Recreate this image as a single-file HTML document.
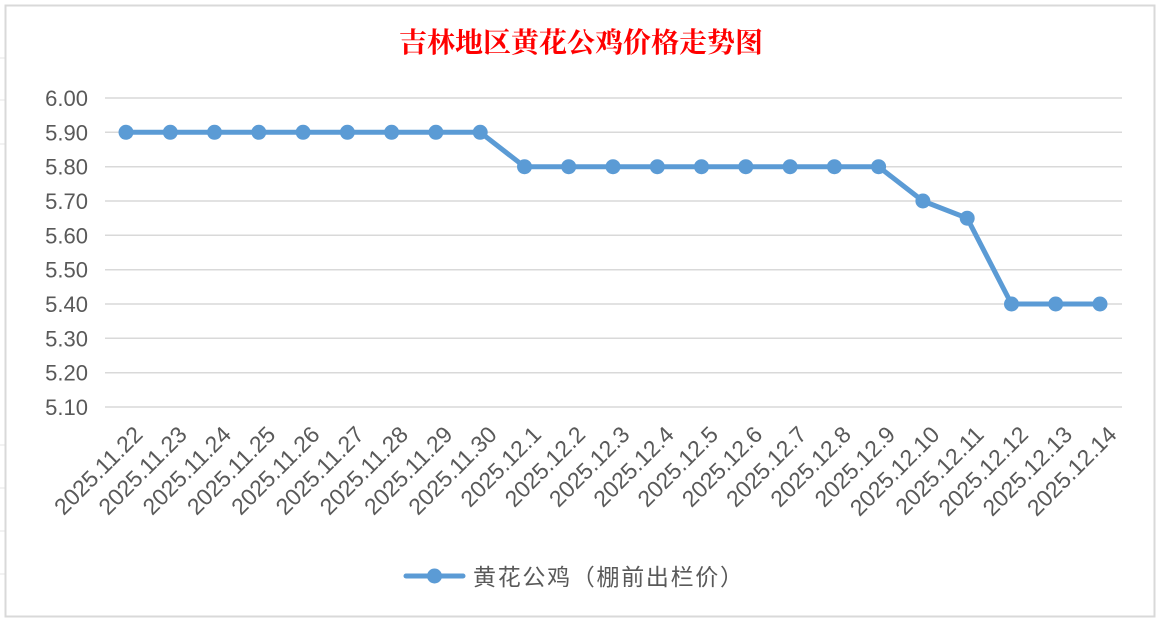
<!DOCTYPE html>
<html><head><meta charset="utf-8"><style>
html,body{margin:0;padding:0;background:#fff;width:1161px;height:622px;overflow:hidden}
</style></head><body>
<svg width="1161" height="622" xmlns="http://www.w3.org/2000/svg">
<g stroke="#e4e4e4" stroke-width="1">
<line x1="0" y1="58" x2="5" y2="58"/><line x1="0" y1="100" x2="5" y2="100"/><line x1="0" y1="144" x2="5" y2="144"/>
<line x1="0" y1="445" x2="5" y2="445"/><line x1="0" y1="488" x2="5" y2="488"/><line x1="0" y1="531" x2="5" y2="531"/><line x1="0" y1="574" x2="5" y2="574"/>
</g>
<rect x="5.5" y="5.5" width="1149" height="611" fill="#fff" stroke="#d9d9d9" stroke-width="2"/>
<text x="581" y="52" text-anchor="middle" font-family="'Noto Serif CJK SC',serif" font-size="28" font-weight="bold" fill="#ff0000">吉林地区黄花公鸡价格走势图</text>
<g stroke="#d9d9d9" stroke-width="1.5">
<line x1="105" x2="1122" y1="98" y2="98"/><line x1="105" x2="1122" y1="132.3" y2="132.3"/><line x1="105" x2="1122" y1="166.7" y2="166.7"/><line x1="105" x2="1122" y1="201" y2="201"/><line x1="105" x2="1122" y1="235.3" y2="235.3"/><line x1="105" x2="1122" y1="269.7" y2="269.7"/><line x1="105" x2="1122" y1="304" y2="304"/><line x1="105" x2="1122" y1="338.3" y2="338.3"/><line x1="105" x2="1122" y1="372.7" y2="372.7"/><line x1="105" x2="1122" y1="407" y2="407"/>
</g>
<g font-family="'Liberation Sans',sans-serif" font-size="22" fill="#595959" text-anchor="end">
<text x="88" y="106">6.00</text><text x="88" y="140.3">5.90</text><text x="88" y="174.7">5.80</text><text x="88" y="209">5.70</text><text x="88" y="243.3">5.60</text><text x="88" y="277.7">5.50</text><text x="88" y="312">5.40</text><text x="88" y="346.3">5.30</text><text x="88" y="380.7">5.20</text><text x="88" y="415">5.10</text>
</g>
<polyline fill="none" stroke="#5b9bd5" stroke-width="5" stroke-linejoin="round" points="126,132.3 170.3,132.3 214.5,132.3 258.8,132.3 303.1,132.3 347.4,132.3 391.6,132.3 435.9,132.3 480.2,132.3 524.5,166.7 568.7,166.7 613,166.7 657.3,166.7 701.5,166.7 745.8,166.7 790.1,166.7 834.4,166.7 878.6,166.7 922.9,201 967.2,218.2 1011.5,304 1055.7,304 1100,304"/>
<g fill="#5b9bd5">
<circle cx="126" cy="132.3" r="7.5"/><circle cx="170.3" cy="132.3" r="7.5"/><circle cx="214.5" cy="132.3" r="7.5"/><circle cx="258.8" cy="132.3" r="7.5"/><circle cx="303.1" cy="132.3" r="7.5"/><circle cx="347.4" cy="132.3" r="7.5"/><circle cx="391.6" cy="132.3" r="7.5"/><circle cx="435.9" cy="132.3" r="7.5"/><circle cx="480.2" cy="132.3" r="7.5"/><circle cx="524.5" cy="166.7" r="7.5"/><circle cx="568.7" cy="166.7" r="7.5"/><circle cx="613" cy="166.7" r="7.5"/><circle cx="657.3" cy="166.7" r="7.5"/><circle cx="701.5" cy="166.7" r="7.5"/><circle cx="745.8" cy="166.7" r="7.5"/><circle cx="790.1" cy="166.7" r="7.5"/><circle cx="834.4" cy="166.7" r="7.5"/><circle cx="878.6" cy="166.7" r="7.5"/><circle cx="922.9" cy="201" r="7.5"/><circle cx="967.2" cy="218.2" r="7.5"/><circle cx="1011.5" cy="304" r="7.5"/><circle cx="1055.7" cy="304" r="7.5"/><circle cx="1100" cy="304" r="7.5"/>
</g>
<g font-family="'Liberation Sans',sans-serif" font-size="23" fill="#595959" text-anchor="end">
<text transform="translate(144,436) rotate(-45)">2025.11.22</text>
<text transform="translate(188.3,436) rotate(-45)">2025.11.23</text>
<text transform="translate(232.5,436) rotate(-45)">2025.11.24</text>
<text transform="translate(276.8,436) rotate(-45)">2025.11.25</text>
<text transform="translate(321.1,436) rotate(-45)">2025.11.26</text>
<text transform="translate(365.4,436) rotate(-45)">2025.11.27</text>
<text transform="translate(409.6,436) rotate(-45)">2025.11.28</text>
<text transform="translate(453.9,436) rotate(-45)">2025.11.29</text>
<text transform="translate(498.2,436) rotate(-45)">2025.11.30</text>
<text transform="translate(542.5,436) rotate(-45)">2025.12.1</text>
<text transform="translate(586.7,436) rotate(-45)">2025.12.2</text>
<text transform="translate(631,436) rotate(-45)">2025.12.3</text>
<text transform="translate(675.3,436) rotate(-45)">2025.12.4</text>
<text transform="translate(719.5,436) rotate(-45)">2025.12.5</text>
<text transform="translate(763.8,436) rotate(-45)">2025.12.6</text>
<text transform="translate(808.1,436) rotate(-45)">2025.12.7</text>
<text transform="translate(852.4,436) rotate(-45)">2025.12.8</text>
<text transform="translate(896.6,436) rotate(-45)">2025.12.9</text>
<text transform="translate(940.9,436) rotate(-45)">2025.12.10</text>
<text transform="translate(985.2,436) rotate(-45)">2025.12.11</text>
<text transform="translate(1029.5,436) rotate(-45)">2025.12.12</text>
<text transform="translate(1073.7,436) rotate(-45)">2025.12.13</text>
<text transform="translate(1118,436) rotate(-45)">2025.12.14</text>
</g>
<line x1="406" y1="576" x2="463" y2="576" stroke="#5b9bd5" stroke-width="5" stroke-linecap="round"/>
<circle cx="434.5" cy="576" r="7.5" fill="#5b9bd5"/>
<text x="473" y="585" textLength="270" font-family="'Liberation Sans','Noto Sans CJK SC',sans-serif" font-size="23" fill="#595959">黄花公鸡（棚前出栏价）</text>
</svg>
</body></html>
